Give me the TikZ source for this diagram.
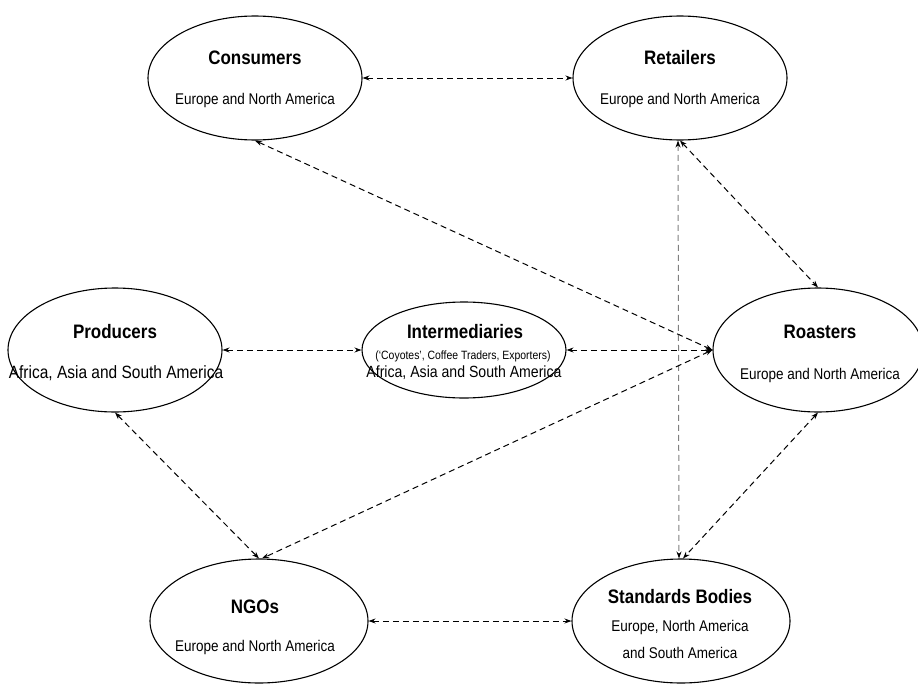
\documentclass[tikz,border=0pt]{standalone}
\usepackage{fontspec}
\setmainfont[FakeStretch=0.87]{Liberation Sans}
\usetikzlibrary{shapes.geometric,arrows.meta}
\begin{document}
\begin{tikzpicture}[x=1pt,y=-1pt,
 ell/.style={ellipse,draw,line width=1.1pt,minimum width=214pt,minimum height=124pt,inner sep=0pt},
 ttl/.style={font=\fontsize{19.5}{22}\selectfont\bfseries,inner sep=0pt},
 sub/.style={font=\fontsize{15.5}{18}\selectfont,inner sep=0pt,align=center},
 link/.style={dash pattern=on 6pt off 4pt,line width=1pt,{Stealth[length=7pt,width=5pt,color=black]}-{Stealth[length=7pt,width=5pt,color=black]}}]
\useasboundingbox (0,0) rectangle (918,685);

\node[ell] (cons) at (255,78) {};
\node[ell] (ret) at (680,78) {};
\node[ell] (prod) at (115,350) {};
\node[ell,minimum width=204pt,minimum height=96pt] (inter) at (464,350) {};
\node[ell,minimum width=210pt] (roast) at (818,350) {};
\node[ell,minimum width=218pt] (ngo) at (259,621) {};
\node[ell,minimum width=218pt] (std) at (681,621) {};

\node[ttl] (consT) at (255,58) {Consumers};
\node[sub] (consS) at (255,100) {Europe and North America};
\node[ttl] (retT) at (680,58) {Retailers};
\node[sub] (retS) at (680,100) {Europe and North America};
\node[ttl] (prodT) at (115,332) {Producers};
\node[sub,font=\fontsize{17.8}{20}\selectfont] (prodS) at (116,373) {Africa, Asia and South America};
\node[ttl] (interT) at (465,332) {Intermediaries};
\node[sub,font=\fontsize{12}{14}\selectfont] (interS) at (463,356) {(`Coyotes', Coffee Traders, Exporters)};
\node[sub,font=\fontsize{16.2}{18}\selectfont] (interR) at (464,373) {Africa, Asia and South America};
\node[ttl] (roastT) at (820,332) {Roasters};
\node[sub] (roastS) at (820,375) {Europe and North America};
\node[ttl] (ngoT) at (255,607) {NGOs};
\node[sub] (ngoS) at (255,647) {Europe and North America};
\node[ttl] (stdT) at (680,597) {Standards Bodies};
\node[sub] (stdS1) at (680,627) {Europe, North America};
\node[sub] (stdS2) at (680,653) {and South America};

\draw[link] (cons.east) -- (ret.west);
\draw[link] (prod.east) -- (inter.west);
\draw[link] (inter.east) -- (roast.west);
\draw[link] (ngo.east) -- (std.west);
\draw[link] (cons.south) -- (roast.west);
\draw[link] (ret.south) -- (roast.north);
\draw[link,draw=gray] ([xshift=-2pt]ret.south) -- ([xshift=-2pt]std.north);
\draw[link] (prod.south) -- (ngo.north);
\draw[link] (roast.west) -- ([xshift=3pt]ngo.north);
\draw[link] (roast.south) -- ([xshift=2pt]std.north);
\end{tikzpicture}
\end{document}
